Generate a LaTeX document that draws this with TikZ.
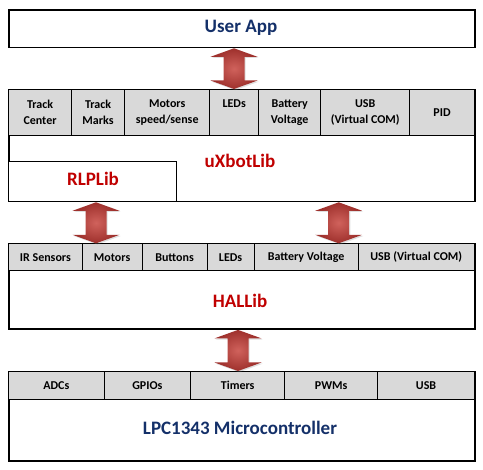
\documentclass[tikz,border=0pt]{standalone}
\usepackage{fontspec}
\setmainfont{Carlito}
\usetikzlibrary{calc, shadows}

\definecolor{cellgray}{RGB}{217,217,217}
\definecolor{titleblue}{RGB}{20,48,105}
\definecolor{libred}{RGB}{192,0,0}
\definecolor{arrowin}{RGB}{208,98,92}
\definecolor{arrowout}{RGB}{158,48,44}

\tikzset{
  layer/.style={draw=black, line width=1.6pt, fill=white, anchor=north west, inner sep=0pt},
  cell/.style={draw=black, line width=0.8pt, fill=cellgray, anchor=north west, inner sep=0pt, align=center, font=\fontsize{12}{16}\selectfont\bfseries},
  title/.style={font=\fontsize{19}{22}\selectfont\bfseries, text=titleblue},
  libtitle/.style={font=\fontsize{19}{22}\selectfont\bfseries, text=libred},
  fatarrow/.style={inner color=arrowin, outer color=arrowout, drop shadow={shadow xshift=1.2pt, shadow yshift=-1.2pt, opacity=0.25}},
}

% double arrow between two layers, at a given x
\newcommand{\fatarrow}[3]{
  \coordinate (t) at (#1,0 |- #2.south);
  \coordinate (b) at (#1,0 |- #3.north);
  \path[fatarrow] (t) -- ++(23.5,8.5) -- ++(-13,0) -- ($(b)+(10.5,-8.5)$) -- ++(13,0) -- (b)
    -- ++(-23.5,-8.5) -- ++(13,0) -- ($(t)+(-10.5,8.5)$) -- ++(-13,0) -- cycle;
}

\begin{document}
\begin{tikzpicture}[x=1pt, y=-1pt]
  \useasboundingbox (0,0) rectangle (483,470);

  % user app
  \node[layer, minimum width=465.7pt, minimum height=37.4pt] (user) at (8.3,9.3) {};
  \node[title] (usertext) at (241,28) {User App};

  % uXbotLib
  \node[layer, minimum width=465.7pt, minimum height=111.7pt] (xbot) at (8.3,89) {};
  \node[cell, minimum width=62.7pt, minimum height=46pt] (center) at (8.3,89) {Track\\Center};
  \node[cell, minimum width=53.3pt, minimum height=46pt] (marks) at (71,89) {Track\\Marks};
  \node[cell, minimum width=85pt, minimum height=46pt] (motors) at (124.3,89) {Motors\\speed/sense};
  \node[cell, minimum width=49pt, minimum height=46pt] (leds) at (209.3,89) {LEDs\\\phantom{g}};
  \node[cell, minimum width=62pt, minimum height=46pt] (battery) at (258.3,89) {Battery\\Voltage};
  \node[cell, minimum width=89pt, minimum height=46pt] (usb) at (320.3,89) {USB\\(Virtual COM)};
  \node[cell, minimum width=64.7pt, minimum height=46pt] (pid) at (409.3,89) {PID};
  \node[libtitle] (xbottext) at (240,160.5) {uXbotLib};

  % RLPLib
  \node[draw=black, line width=0.8pt, fill=white, anchor=north west, inner sep=0pt, minimum width=168pt, minimum height=39.4pt] (rlp) at (8.3,161.3) {};
  \node[libtitle] (rlptext) at (93,179) {RLPLib};

  % HALLib
  \node[layer, minimum width=465.7pt, minimum height=85pt] (hal) at (8.3,243.3) {};
  \node[cell, minimum width=73.4pt, minimum height=27pt] (ir) at (8.3,243.3) {IR Sensors};
  \node[cell, minimum width=60pt, minimum height=27pt] (halmotors) at (81.7,243.3) {Motors};
  \node[cell, minimum width=65pt, minimum height=27pt] (buttons) at (141.7,243.3) {Buttons};
  \node[cell, minimum width=47pt, minimum height=27pt] (halleds) at (206.7,243.3) {LEDs};
  \node[cell, minimum width=104pt, minimum height=27pt] (halbattery) at (253.7,243.3) {Battery Voltage};
  \node[cell, minimum width=116.3pt, minimum height=27pt] (halusb) at (357.7,243.3) {USB (Virtual COM)};
  \node[libtitle] (haltext) at (240,301) {HALLib};

  % microcontroller
  \node[layer, minimum width=465.7pt, minimum height=89pt] (lpc) at (8.3,371) {};
  \node[cell, minimum width=95.4pt, minimum height=28pt] (adcs) at (8.3,371) {ADCs};
  \node[cell, minimum width=86.6pt, minimum height=28pt] (gpios) at (103.7,371) {GPIOs};
  \node[cell, minimum width=94pt, minimum height=28pt] (timers) at (190.3,371) {Timers};
  \node[cell, minimum width=93pt, minimum height=28pt] (pwms) at (284.3,371) {PWMs};
  \node[cell, minimum width=96.7pt, minimum height=28pt] (lpcusb) at (377.3,371) {USB};
  \node[title] (lpctext) at (240,428.3) {LPC1343 Microcontroller};

  % arrows
  \fatarrow{234}{user}{xbot}
  \fatarrow{96}{xbot}{hal}
  \fatarrow{338.7}{xbot}{hal}
  \fatarrow{238}{hal}{lpc}
\end{tikzpicture}
\end{document}
